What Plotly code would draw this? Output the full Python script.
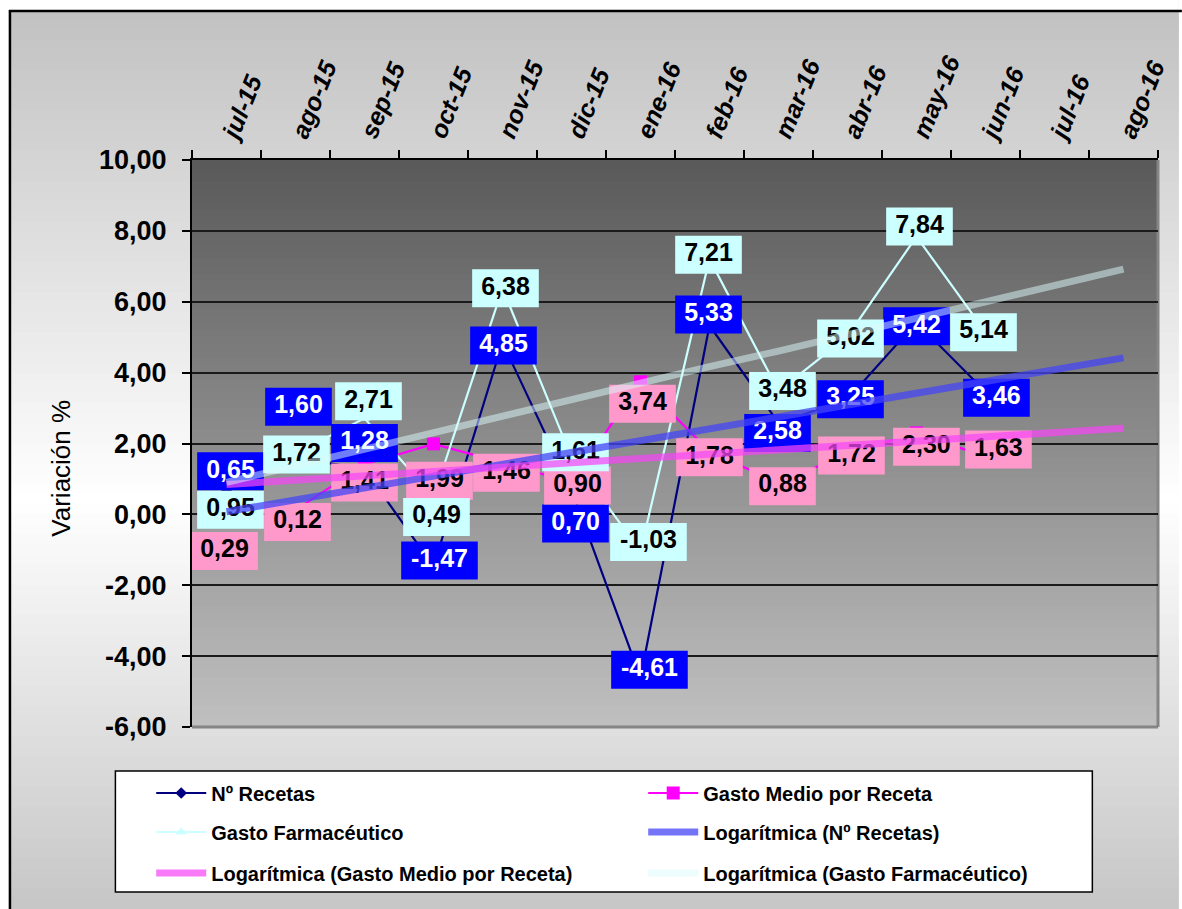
import numpy as np
import pandas as pd
import plotly.graph_objects as go

# ---------------- data ----------------
months = ["jul-15", "ago-15", "sep-15", "oct-15", "nov-15", "dic-15", "ene-16",
          "feb-16", "mar-16", "abr-16", "may-16", "jun-16", "jul-16", "ago-16"]
month_dates = pd.date_range("2015-07-01", periods=len(months), freq="MS")

recetas = [0.65, 1.60, 1.28, -1.47, 4.85, 0.70, -4.61, 5.33, 2.58, 3.25, 5.42, 3.46]
gasto_medio = [0.29, 0.12, 1.41, 1.99, 1.46, 0.90, 3.74, 1.78, 0.88, 1.72, 2.30, 1.63]
gasto_farm = [0.95, 1.72, 2.71, 0.49, 6.38, 1.61, -1.03, 7.21, 3.48, 5.02, 7.84, 5.14]

y_tickvals = [-6, -4, -2, 0, 2, 4, 6, 8, 10]
y_ticktext = ["-6,00", "-4,00", "-2,00", "0,00", "2,00", "4,00", "6,00", "8,00", "10,00"]

# ---------------- geometry / style ----------------
W, H = 1182, 909
ML, MR, MT, MB = 192, 19, 160, 182
PW, PH = W - ML - MR, H - MT - MB
XR = (-0.5, len(months) - 0.5)
YR = (-6, 10)
px_x = PW / (XR[1] - XR[0])
px_y = PH / (YR[1] - YR[0])
FONT = "Arial, Liberation Sans, sans-serif"

# label offsets from their point, in pixels (dx right, dy down)
rec_off = [(4, -20), (3, -51), (0, -26), (6, -6), (1, 3), (4, 34), (9, -8), (-1, -11),
           (-1, 10), (3, 0), (0, 4), (11, 6)]
med_off = [(-2, 47), (2, 12), (0, 18), (6, 37), (4, 10), (6, 3), (2, 22), (0, 6),
           (4, 3), (4, 2), (10, 14), (13, -7)]
farm_off = [(4, 29), (1, 1), (4, -17), (3, 20), (3, 0), (4, -5), (8, -9), (-1, -4),
            (4, 0), (3, 2), (3, -10), (-2, 0)]


def px2px_x(px):
    return (px - ML) / PW


def px2py(py):
    return (H - MB - py) / PH


def fmt(v):
    return f"{v:.2f}".replace(".", ",")


def gray(v):
    v = int(round(max(0, min(255, v))))
    return f"rgb({v},{v},{v})"


shapes = []
# figure background gradient
N = 90
for i in range(N):
    t = (i + 0.5) / N
    if t < 0.55:
        g = 192 + (255 - 192) * (t / 0.55)
    else:
        g = 255 - (255 - 198) * ((t - 0.55) / 0.45)
    shapes.append(dict(type="rect", xref="paper", yref="paper", layer="below",
                       x0=px2px_x(-2), x1=px2px_x(W + 2),
                       y0=px2py(i * H / N - 1), y1=px2py((i + 1) * H / N + 1),
                       fillcolor=gray(g), line=dict(width=0)))
# white page margin outside the outer border (left / top)
shapes.append(dict(type="rect", xref="paper", yref="paper", layer="below",
                   x0=px2px_x(-2), x1=px2px_x(8), y0=px2py(H + 2), y1=px2py(-2),
                   fillcolor="white", line=dict(width=0)))
shapes.append(dict(type="rect", xref="paper", yref="paper", layer="below",
                   x0=px2px_x(-2), x1=px2px_x(W + 2), y0=px2py(10), y1=px2py(-2),
                   fillcolor="white", line=dict(width=0)))
# plot area gradient
NP = 80
for i in range(NP):
    t = (i + 0.5) / NP  # 0 top -> 1 bottom
    g = 89 + (192 - 89) * t
    shapes.append(dict(type="rect", xref="paper", yref="paper", layer="below",
                       x0=0, x1=1, y0=1 - (i + 1) / NP - 0.001, y1=1 - i / NP + 0.001,
                       fillcolor=gray(g), line=dict(width=0)))
# legend box
shapes.append(dict(type="rect", xref="paper", yref="paper", layer="below",
                   x0=px2px_x(115), x1=px2px_x(1097), y0=px2py(892), y1=px2py(771),
                   fillcolor="white", line=dict(color="black", width=1.5)))
# right / bottom plot border (gray)
shapes.append(dict(type="line", xref="paper", yref="paper", layer="between",
                   x0=1, x1=1, y0=0, y1=1, line=dict(color="#858585", width=3)))
shapes.append(dict(type="line", xref="paper", yref="paper", layer="between",
                   x0=0, x1=1, y0=0, y1=0, line=dict(color="#858585", width=3)))
# outer border (left and top edges visible)
shapes.append(dict(type="line", xref="paper", yref="paper", layer="above",
                   x0=px2px_x(9), x1=px2px_x(9), y0=px2py(H + 5), y1=px2py(10),
                   line=dict(color="black", width=2.5)))
shapes.append(dict(type="line", xref="paper", yref="paper", layer="above",
                   x0=px2px_x(8), x1=px2px_x(W + 5), y0=px2py(11), y1=px2py(11),
                   line=dict(color="black", width=2.5)))

fig = go.Figure()
xi = list(range(len(recetas)))

series = [
    dict(name="Nº Recetas", vals=recetas, color="#000080", symbol="diamond", msize=9,
         box="#0000ff", txt="white", off=rec_off, legend="legend"),
    dict(name="Gasto Medio por Receta", vals=gasto_medio, color="#ff00ff", symbol="square",
         msize=13, box="#ff99cc", txt="black", off=med_off, legend="legend"),
    dict(name="Gasto Farmacéutico", vals=gasto_farm, color="#ccffff", symbol="triangle-up",
         msize=10, box="#ccffff", txt="black", off=farm_off, legend="legend2"),
]

for s in series:
    fig.add_trace(go.Scatter(
        x=xi, y=s["vals"], name=s["name"], mode="lines+markers", legend=s["legend"],
        line=dict(color=s["color"], width=2.2),
        marker=dict(symbol=s["symbol"], size=s["msize"], color=s["color"]),
        hoverinfo="skip"))

for s in series:
    bx, by, tx, ty, tt = [], [], [], [], []
    for i, (v, (dx, dy)) in enumerate(zip(s["vals"], s["off"])):
        t = fmt(v)
        w = 67 if len(t) <= 4 else 77
        cx = i + dx / px_x
        cy = v - dy / px_y
        hw = w / 2 / px_x
        hh = 38 / 2 / px_y
        bx += [cx - hw, cx + hw, cx + hw, cx - hw, cx - hw, None]
        by += [cy - hh, cy - hh, cy + hh, cy + hh, cy - hh, None]
        tx.append(cx)
        ty.append(cy)
        tt.append(t)
    fig.add_trace(go.Scatter(x=bx, y=by, mode="lines", fill="toself",
                             fillcolor=s["box"], line=dict(width=0, color=s["box"]),
                             showlegend=False, hoverinfo="skip"))
    fig.add_trace(go.Scatter(x=tx, y=ty, mode="text", text=tt, textposition="middle center",
                             textfont=dict(family=FONT, size=25, color=s["txt"], weight="bold"),
                             showlegend=False, hoverinfo="skip"))

# logarithmic trend lines (Excel-style: y = a + b*ln(date serial))
serial = np.array([(d - pd.Timestamp("1899-12-30")).days for d in month_dates], dtype=float)
xall = list(range(len(months)))
trends = [
    dict(name="Logarítmica (Nº Recetas)", vals=recetas, color="rgba(70,70,245,0.75)", legend="legend2"),
    dict(name="Logarítmica (Gasto Medio por Receta)", vals=gasto_medio,
         color="rgba(245,70,245,0.72)", legend="legend3"),
    dict(name="Logarítmica (Gasto Farmacéutico)", vals=gasto_farm,
         color="rgba(220,250,250,0.5)", legend="legend3"),
]
for tr in trends:
    n = len(tr["vals"])
    b, a = np.polyfit(np.log(serial[:n]), np.array(tr["vals"]), 1)
    yfit = a + b * np.log(serial)
    fig.add_trace(go.Scatter(x=xall, y=yfit, name=tr["name"], mode="lines", legend=tr["legend"],
                             line=dict(color=tr["color"], width=7), hoverinfo="skip"))

legend_common = dict(orientation="h", xanchor="left", yanchor="middle",
                     x=px2px_x(151), entrywidth=427, entrywidthmode="pixels", itemwidth=50,
                     bgcolor="rgba(0,0,0,0)", borderwidth=0,
                     font=dict(family=FONT, size=20, color="black", weight="bold"))

fig.update_layout(
    width=W, height=H, autosize=False,
    margin=dict(l=ML, r=MR, t=MT, b=MB),
    paper_bgcolor="white", plot_bgcolor="rgba(0,0,0,0)",
    shapes=shapes,
    showlegend=True,
    legend=dict(legend_common, y=px2py(793)),
    legend2=dict(legend_common, y=px2py(832)),
    legend3=dict(legend_common, y=px2py(873)),
    annotations=[dict(text="Variación %", textangle=-90, showarrow=False,
                      xref="paper", yref="paper", x=px2px_x(60), y=px2py(468),
                      xanchor="center", yanchor="middle",
                      font=dict(family=FONT, size=26, color="black"))],
    xaxis=dict(type="linear", range=list(XR), side="top",
               tickmode="array", tickvals=list(range(len(months))), ticktext=months,
               ticks="", tickangle=-68,
               tickfont=dict(family=FONT, size=25, color="black", weight="bold", style="italic"),
               minor=dict(tickmode="array", tickvals=[k - 0.5 for k in range(len(months) + 1)],
                          ticks="outside", ticklen=8, tickwidth=1.5, tickcolor="black",
                          showgrid=False),
               showgrid=False, zeroline=False, showline=True, linecolor="black", linewidth=2),
    yaxis=dict(range=list(YR), tickmode="array", tickvals=y_tickvals, ticktext=y_ticktext,
               ticks="outside", ticklen=8, tickwidth=1.5, tickcolor="black",
               ticklabelstandoff=10,
               tickfont=dict(family=FONT, size=27, color="black", weight="bold"),
               showgrid=True, gridcolor="#1a1a1a", gridwidth=1.5, zeroline=False,
               showline=True, linecolor="black", linewidth=2),
)

fig.write_html(
    "out.html",
    config={"displayModeBar": False},
    post_script="document.body.style.margin='0px';document.documentElement.style.overflow='hidden';",
)
